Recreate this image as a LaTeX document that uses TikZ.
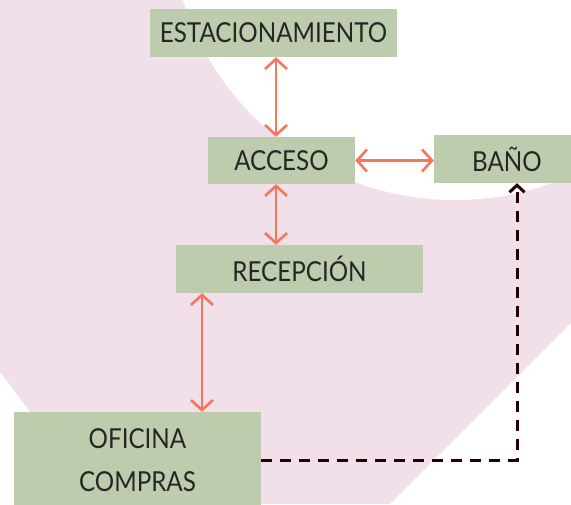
\documentclass[tikz,border=0pt]{standalone}
\usepackage{fontspec}
\setmainfont{Lato}[FakeStretch=0.88]
\usetikzlibrary{arrows.meta,positioning}

\definecolor{blush}{HTML}{F1E0EA}
\definecolor{sage}{HTML}{BDCCAD}
\definecolor{coral}{HTML}{F4775A}
\definecolor{ink}{HTML}{262626}

\begin{document}
\begin{tikzpicture}[x=1pt, y=-1pt, font=\fontsize{27.5}{43}\selectfont,
  room/.style={fill=sage, text=ink, inner sep=0pt, minimum height=48pt, align=center},
  link/.style={coral, line width=2.6pt, {Straight Barb[length=10pt,width=22pt]}-{Straight Barb[length=10pt,width=22pt]}},
  route/.style={black!85!red, line width=3pt, dash pattern=on 11pt off 8pt, -{Straight Barb[length=7pt,width=15pt]}}]
		\useasboundingbox (0,0) rectangle (571,504);
		\clip (0,0) rectangle (571,504);

		% Background
		\fill[blush] (0,0) rectangle (571,504);
		\fill[white] (455,-85) circle (285pt);
		\fill[white] (0,372) -- (100,505) -- (0,505) -- cycle;
		\fill[white] (571,323) -- (571,505) -- (389,505) -- cycle;

		% Rooms
		\node[room, minimum width=247pt] (estac) at (273.5,33) {ESTACIONAMIENTO};
		\node[room, minimum width=147pt, minimum height=47pt] (acceso) at (281.5,160.5) {ACCESO};
		\node[room, minimum width=146pt] (bano) at (507,159) {BAÑO};
		\node[room, minimum width=247pt] (recep) at (299.5,269) {RECEPCIÓN};
		\node[room, minimum width=247pt, minimum height=96pt] (ofi) at (137.5,460) {OFICINA\\COMPRAS};

		% Links
		\draw[link] ([xshift=2.5pt]estac.south) -- ([xshift=-5.5pt]acceso.north);
		\draw[link] ([xshift=-5.5pt]acceso.south) -- ([xshift=-23.5pt]recep.north);
		\draw[link] (acceso.east) -- (acceso.east -| bano.west);
		\draw[link] ([xshift=64.5pt]ofi.north |- recep.south) -- ([xshift=64.5pt]ofi.north);

		% Dashed route
		\draw[route] (ofi.east) -| ([xshift=10pt]bano.south);
	\end{tikzpicture}
\end{document}
